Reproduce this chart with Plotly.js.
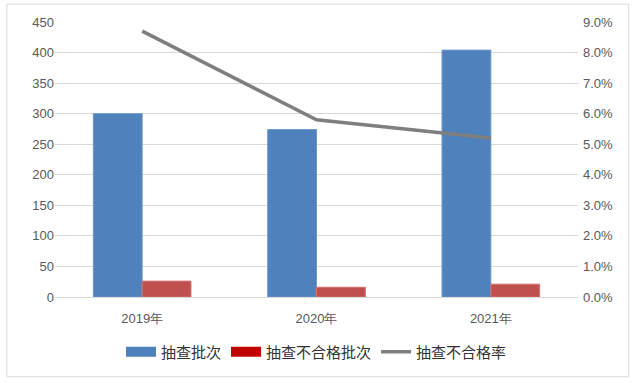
<!DOCTYPE html>
<html><head><meta charset="utf-8">
<script src="https://cdn.plot.ly/plotly-3.0.1.min.js"></script>
<style>html,body{margin:0;padding:0;background:#fff}#c{width:635px;height:383px}</style>
</head><body><div id="c"></div>
<script>
const years = ['2019年','2020年','2021年'];
const checked = [300, 274, 404];
const failed = [26, 16, 21];
const failRate = [0.087, 0.058, 0.052];
const names = ['抽查批次','抽查不合格批次','抽查不合格率'];

const traces = [
  {type:'bar', x:years, y:checked, name:names[0], marker:{color:'#4f81bd', line:{color:'#6d97cc', width:1}}, showlegend:false},
  {type:'bar', x:years, y:failed, name:names[1], marker:{color:'#c0504d', line:{color:'#d27370', width:1}}, showlegend:false},
  {type:'scatter', mode:'lines', x:[null], y:[null], name:names[0], xaxis:'x2', yaxis:'y3', line:{color:'#4f81bd', width:10}},
  {type:'scatter', mode:'lines', x:[null], y:[null], name:names[1], xaxis:'x2', yaxis:'y3', line:{color:'#c00000', width:10}},
  {type:'scatter', mode:'lines', x:years, y:failRate, name:names[2], yaxis:'y2', line:{color:'#7f7f7f', width:3.5}}
];
const tickFont = {family:'Liberation Sans, Arial, sans-serif', size:13, color:'#595959'};
const layout = {
  width:635, height:383,
  margin:{l:55, r:57, t:22, b:86},
  paper_bgcolor:'#fff', plot_bgcolor:'#fff',
  barmode:'group', bargap:0.44, bargroupgap:0,
  showlegend:true,
  legend:{orientation:'h', x:0.5, xanchor:'center', y:-0.2, yanchor:'middle',
    font:{family:'Noto Sans CJK SC, sans-serif', size:15, color:'#333333'}, traceorder:'normal', itemwidth:30},
  xaxis:{type:'category', tickfont:tickFont, showline:true, linecolor:'#d9d9d9', ticks:'', showgrid:false, zeroline:false, ticklabelstandoff:9},
  xaxis2:{overlaying:'x', visible:false, range:[0,1]},
  yaxis:{range:[0,450], dtick:50, tickfont:tickFont, gridcolor:'#d9d9d9', zeroline:false, showline:false, ticks:'', ticklen:0},
  yaxis2:{overlaying:'y', side:'right', range:[0,0.09], dtick:0.01, tickformat:'.1%', tickfont:tickFont, showgrid:false, zeroline:false, ticklabelstandoff:4},
  yaxis3:{overlaying:'y', visible:false, range:[0,1]},
  shapes:[{type:'rect', xref:'paper', yref:'paper', x0:-0.092, x1:1.097, y0:-0.29, y1:1.065, line:{color:'#d9d9d9', width:1}}]
};
Plotly.newPlot('c', traces, layout, {displayModeBar:false, staticPlot:true});
</script></body></html>
